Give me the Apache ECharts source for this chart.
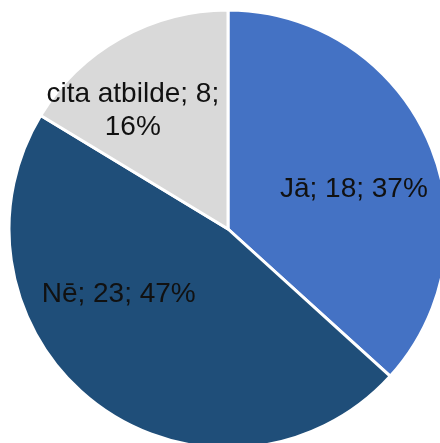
<!DOCTYPE html>
<html><head><meta charset="utf-8">
<script src="https://cdn.jsdelivr.net/npm/echarts@6/dist/echarts.min.js"></script>
<style>html,body{margin:0;padding:0;background:#fff}#c{width:440px;height:443px}</style>
</head><body><div id="c"></div>
<script>
const categories = ['Jā', 'Nē', 'cita atbilde'];
const values = [18, 23, 8];
const colors = ['#4472C4', '#1F4E79', '#D9D9D9'];
const labelShift = [[23, 6], [-42, -25], [-40, -20]];

const chart = echarts.init(document.getElementById('c'), null, {renderer: 'canvas'});
chart.setOption({
  animation: false,
  backgroundColor: '#fff',
  series: [{
    type: 'pie',
    center: [228, 229],
    radius: 219,
    startAngle: 90,
    clockwise: true,
    percentPrecision: 0,
    avoidLabelOverlap: false,
    itemStyle: {borderColor: '#fff', borderWidth: 3},
    label: {
      position: 'inside',
      color: '#111',
      fontFamily: 'Liberation Sans, Arial, sans-serif',
      fontSize: 28,
      lineHeight: 33,
      align: 'center',
      formatter: p => p.name.length > 8
        ? p.name + '; ' + p.value + ';\n' + p.percent + '%'
        : p.name + '; ' + p.value + '; ' + p.percent + '%'
    },
    labelLine: {show: false},
    labelLayout: p => ({dx: labelShift[p.dataIndex][0], dy: labelShift[p.dataIndex][1]}),
    emphasis: {disabled: true},
    data: categories.map((n, i) => ({name: n, value: values[i], itemStyle: {color: colors[i]}}))
  }]
});
</script></body></html>
